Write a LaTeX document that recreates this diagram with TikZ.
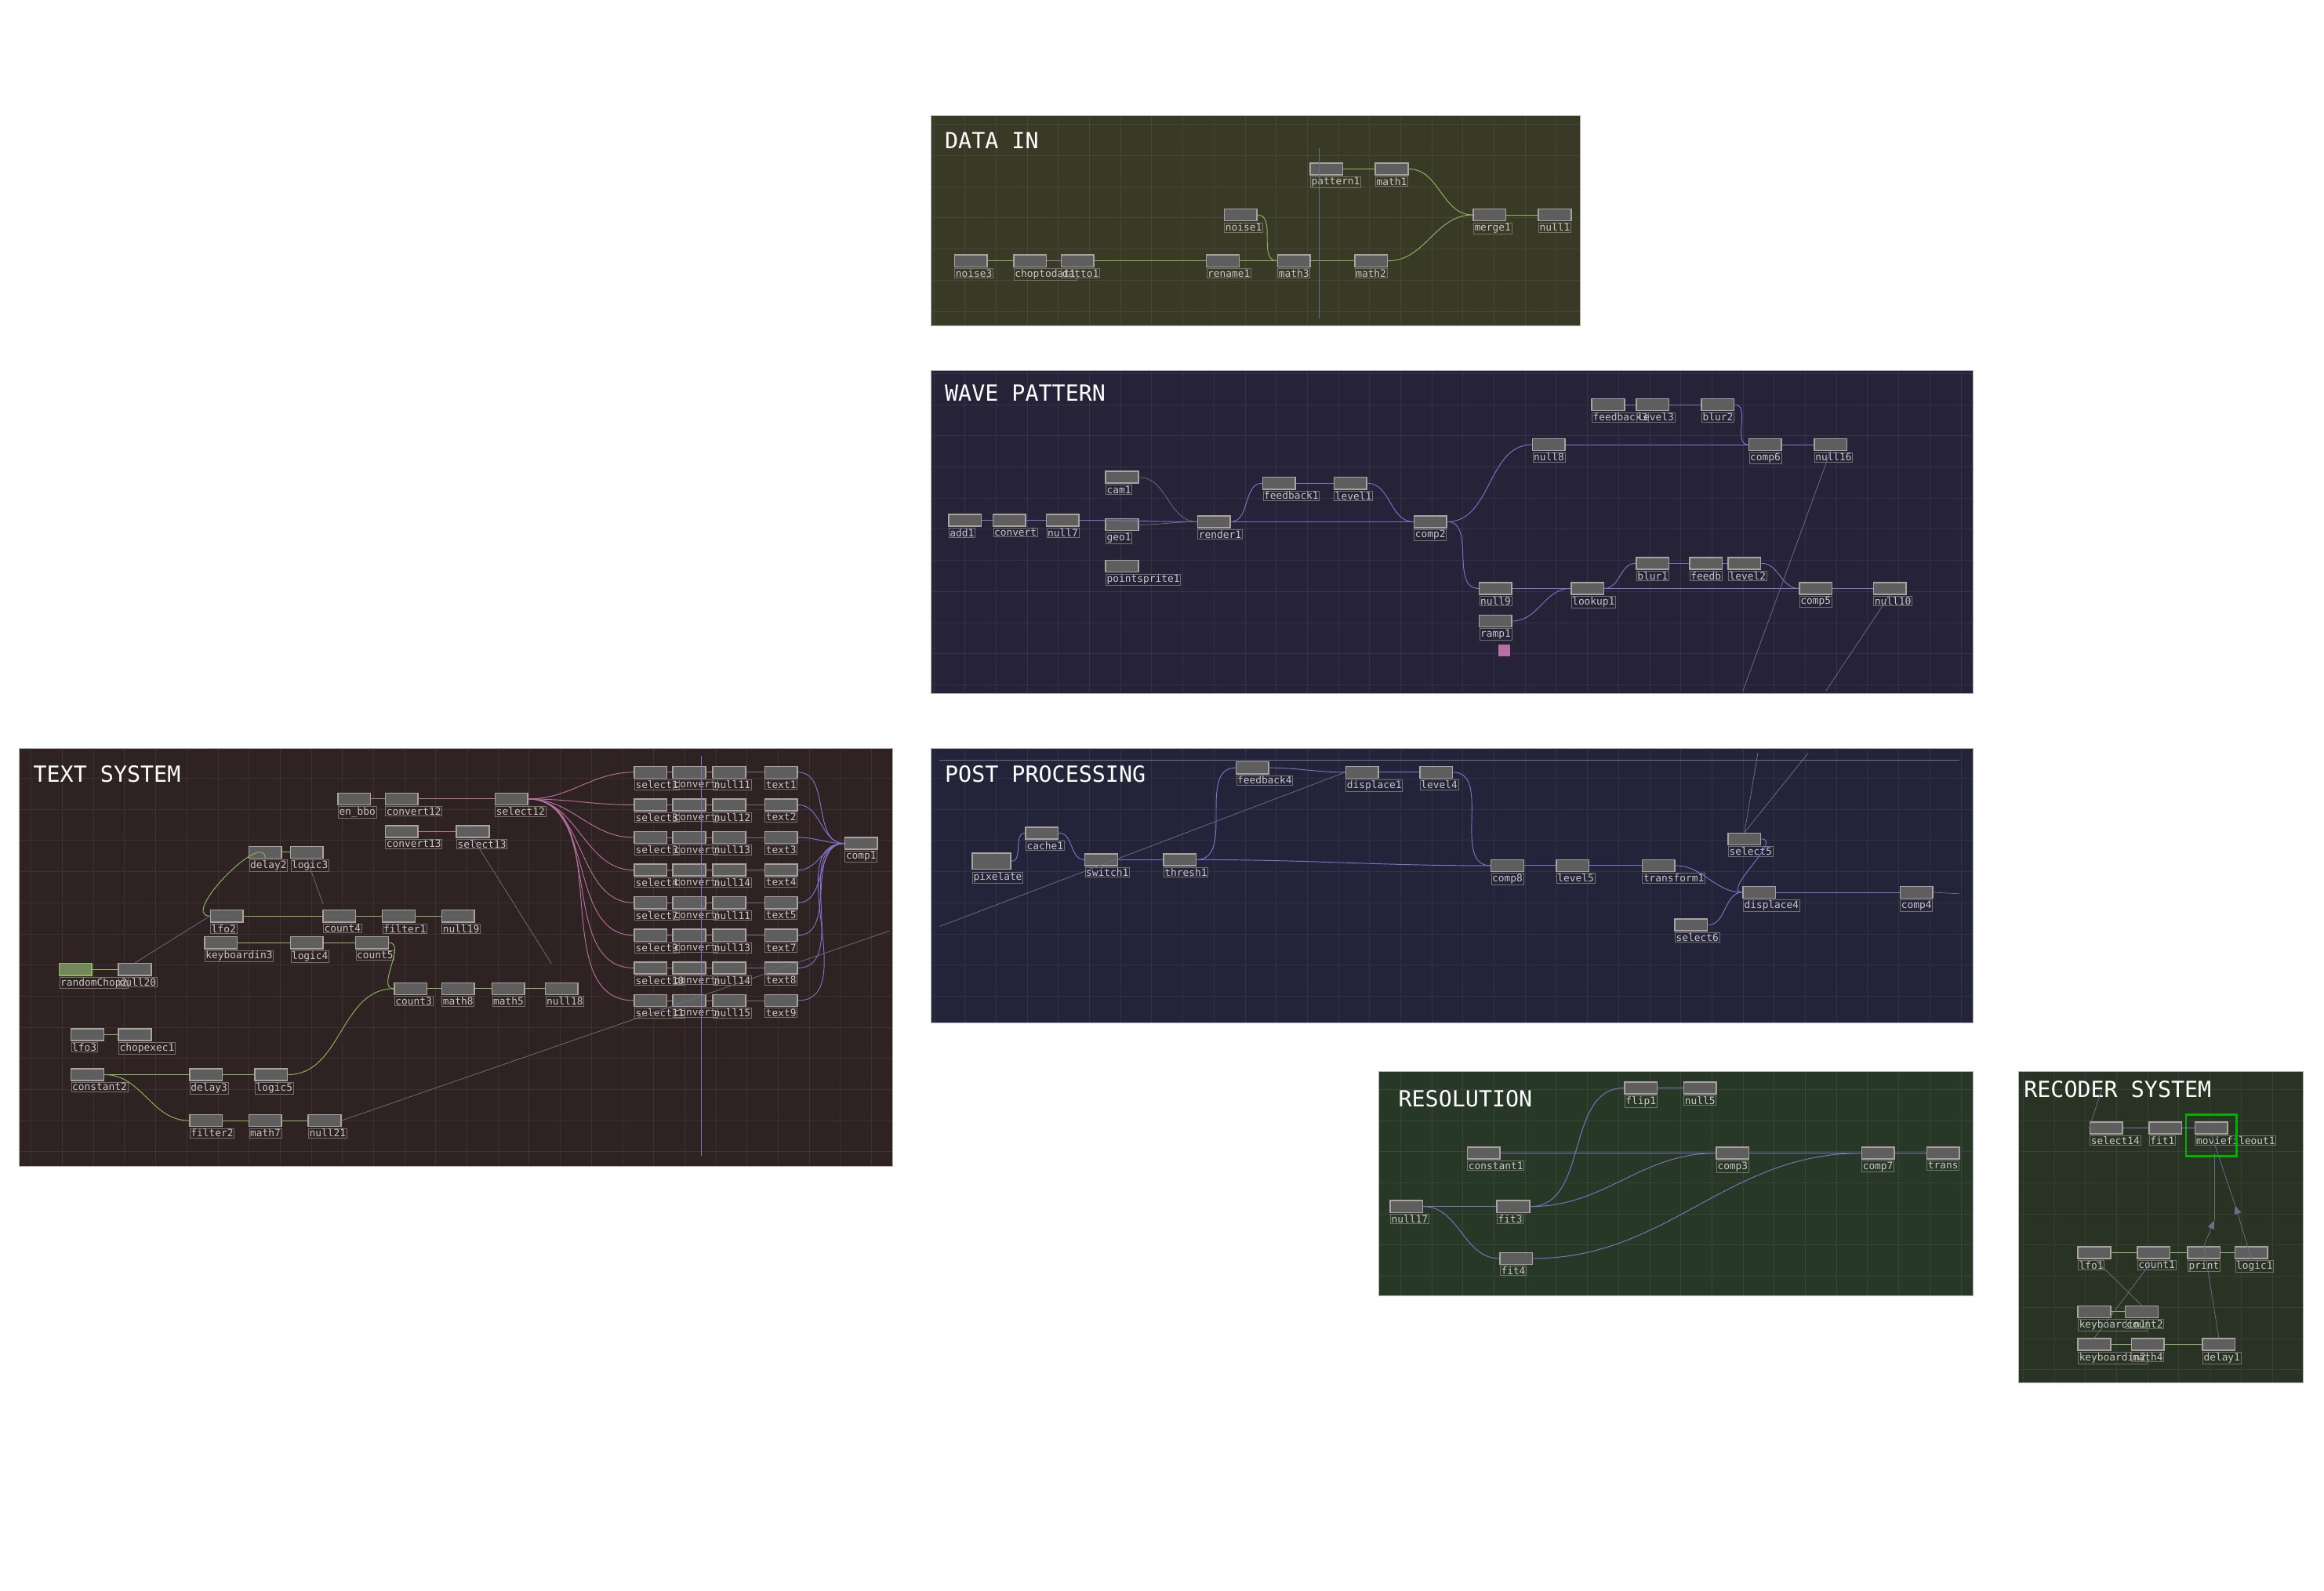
\documentclass[tikz,border=0pt]{standalone}
\usepackage{fontspec}
\usetikzlibrary{arrows.meta}
\newfontfamily\monof{DejaVu Sans Mono}
\begin{document}
\begin{tikzpicture}[x=1pt,y=-1pt,
  opnode/.style={draw=opedge,fill=opfill,line width=0.8pt,minimum width=22pt,minimum height=8pt,inner sep=0pt},
  oplabel/.style={draw=opedge!70!black,line width=0.4pt,inner sep=0.6pt,text=labtext,font=\monof\fontsize{6.8}{6.8}\selectfont},
  title/.style={anchor=west,text=white,font=\monof\fontsize{15}{15}\selectfont},
  chopc/.style={draw=chopg,line width=0.5pt},
  topc/.style={draw=topp,line width=0.5pt},
  datc/.style={draw=datp,line width=0.5pt},
  linkc/.style={draw=linkb,line width=0.4pt},
  panelgrid/.style={draw=white,opacity=0.07,line width=0.4pt}]
\definecolor{opfill}{HTML}{5E5E5E}
\definecolor{opedge}{HTML}{A9A2A0}
\definecolor{labtext}{HTML}{C8C8C8}
\definecolor{chopg}{HTML}{8FB85A}
\definecolor{topp}{HTML}{7F74C8}
\definecolor{datp}{HTML}{B86FA2}
\definecolor{linkb}{HTML}{6A7088}
\definecolor{pdata}{HTML}{393A26}
\definecolor{pwave}{HTML}{262238}
\definecolor{ptext}{HTML}{2F2222}
\definecolor{ppost}{HTML}{23233A}
\definecolor{pres}{HTML}{283826}
\definecolor{prec}{HTML}{283324}
\useasboundingbox (0,0) rectangle (1568,1073);
\fill[white] (0,0) rectangle (1568,1073);
\newcommand\panel[5]{%
  \fill[#5] (#1,#2) rectangle (#3,#4);
  \begin{scope}
  \clip (#1,#2) rectangle (#3,#4);
  \draw[panelgrid,step=21pt] (#1,#2) grid (#3,#4);
  \end{scope}
  \draw[gray!60,line width=0.5pt] (#1,#2) rectangle (#3,#4);}
\newcommand\nd[5][]{%
  \node[opnode,#1] (#2) at (#3+11,#4+4) {};
  \node[oplabel,anchor=north west] at (#3,#4+9) {#5};}
\newcommand\ed[3][chopc]{\draw[#1] (#2.east) to[out=0,in=180] (#3.west);}
% panels
\panel{628}{78}{1066}{220}{pdata}
\panel{628}{250}{1331}{468}{pwave}
\panel{13}{505}{602}{787}{ptext}
\panel{628}{505}{1331}{690}{ppost}
\panel{930}{723}{1331}{874}{pres}
\panel{1362}{723}{1554}{933}{prec}
\node[title] (t1) at (634,95) {DATA IN};
\node[title] (t2) at (634,265) {WAVE PATTERN};
\node[title] (t3) at (19,522) {TEXT SYSTEM};
\node[title] (t4) at (634,522) {POST PROCESSING};
\node[title] (t5) at (940,741) {RESOLUTION};
\node[title] (t6) at (1362,735) {RECODER SYSTEM};
% DATA IN
\nd{pattern1}{884}{110}{pattern1}
\nd{math1}{928}{110}{math1}
\nd{noise1}{826}{141}{noise1}
\nd{merge1}{994}{141}{merge1}
\nd{null1}{1038}{141}{null1}
\nd{noise3}{644}{172}{noise3}
\nd{chopto}{684}{172}{choptodat1}
\nd{datto}{716}{172}{datto1}
\nd{rename1}{814}{172}{rename1}
\nd{math3}{862}{172}{math3}
\nd{math2}{914}{172}{math2}
\ed{noise3}{chopto}\ed[datc]{chopto}{datto}\ed{datto}{rename1}
\ed{rename1}{math3}\ed{math3}{math2}\ed{math2}{merge1}
\ed{pattern1}{math1}\ed{math1}{merge1}\ed{merge1}{null1}\ed{noise1}{math3}
\draw[linkc] (890,100) -- (890,215);
% WAVE PATTERN
\nd{add1}{640}{347}{add1}
\nd{convert}{670}{347}{convert}
\nd{null7}{706}{347}{null7}
\nd{cam1}{746}{318}{cam1}
\nd{geo1}{746}{350}{geo1}
\nd{pointsprite1}{746}{378}{pointsprite1}
\nd{render1}{808}{348}{render1}
\nd{feedback1}{852}{322}{feedback1}
\nd{level1}{900}{322}{level1}
\nd{comp2}{954}{348}{comp2}
\nd{null8}{1034}{296}{null8}
\nd{feedback3}{1074}{269}{feedback3}
\nd{level3}{1104}{269}{level3}
\nd{blur2}{1148}{269}{blur2}
\nd{comp6}{1180}{296}{comp6}
\nd{null16}{1224}{296}{null16}
\nd{null9}{998}{393}{null9}
\nd{lookup1}{1060}{393}{lookup1}
\nd{blur1}{1104}{376}{blur1}
\nd{feedb}{1140}{376}{feedb}
\nd{level2}{1166}{376}{level2}
\nd{comp5}{1214}{393}{comp5}
\nd{null10}{1264}{393}{null10}
\nd{ramp1}{998}{415}{ramp1}
\fill[datp] (1011,435) rectangle (1019,443);
\ed[topc]{add1}{convert}\ed[topc]{convert}{null7}\ed[topc]{null7}{render1}
\ed[linkc]{cam1}{render1}\ed[linkc]{geo1}{render1}
\ed[topc]{render1}{comp2}\ed[topc]{render1}{feedback1}\ed[topc]{feedback1}{level1}\ed[topc]{level1}{comp2}
\ed[topc]{comp2}{null8}\ed[topc]{null8}{comp6}\ed[topc]{feedback3}{level3}\ed[topc]{level3}{blur2}\ed[topc]{blur2}{comp6}\ed[topc]{comp6}{null16}
\ed[topc]{comp2}{null9}\ed[topc]{null9}{lookup1}\ed[topc]{lookup1}{comp5}\ed[topc]{lookup1}{blur1}\ed[topc]{blur1}{feedb}\ed[topc]{feedb}{level2}\ed[topc]{level2}{comp5}\ed[topc]{comp5}{null10}
\ed[topc]{ramp1}{lookup1}
\draw[linkc] (null16.south) -- (1176,466);
\draw[linkc] (null10.south) -- (1232,466);
% TEXT SYSTEM
\nd{enbbo}{228}{535}{en\_bbo}
\nd{convert12}{260}{535}{convert12}
\nd{select12}{334}{535}{select12}
\nd{convert13}{260}{557}{convert13}
\nd{select13}{308}{557}{select13}
\nd{delay2}{168}{571}{delay2}
\nd{logic3}{196}{571}{logic3}
\nd{lfo2}{142}{614}{lfo2}
\nd{keyboardin3}{138}{632}{keyboardin3}
\nd{count4}{218}{614}{count4}
\nd{filter1}{258}{614}{filter1}
\nd{null19}{298}{614}{null19}
\nd{logic4}{196}{632}{logic4}
\nd{count5}{240}{632}{count5}
\nd[fill=chopg!45!opfill,draw=chopg]{randomChop2}{40}{650}{randomChop2}
\nd{null20}{80}{650}{null20}
\nd{count3}{266}{663}{count3}
\nd{math8}{298}{663}{math8}
\nd{math5}{332}{663}{math5}
\nd{null18}{368}{663}{null18}
\nd{lfo3}{48}{694}{lfo3}
\nd{chopexec1}{80}{694}{chopexec1}
\nd{constant2}{48}{721}{constant2}
\nd{delay3}{128}{721}{delay3}
\nd{logic5}{172}{721}{logic5}
\nd{filter2}{128}{752}{filter2}
\nd{math7}{168}{752}{math7}
\nd{null21}{208}{752}{null21}
\nd{comp1}{570}{565}{comp1}
\foreach \i/\s/\n/\t in {0/1/11/1,1/8/12/2,2/3/13/3,3/4/14/4,4/7/11/5,5/9/13/7,6/10/14/8,7/11/15/9}{
  \pgfmathsetmacro\yy{517+22*\i}
  \nd{sel\i}{428}{\yy}{select\s}
  \nd{con\i}{454}{\yy}{convert}
  \nd{nul\i}{481}{\yy}{null\n}
  \nd{txt\i}{516}{\yy}{text\t}
  \ed[datc]{sel\i}{con\i}\ed[datc]{con\i}{nul\i}\ed[linkc]{nul\i}{txt\i}
  \ed[topc]{txt\i}{comp1}
  \ed[datc]{select12}{sel\i}
}
\draw[topp,line width=0.4pt] (473,510) -- (473,780);
\ed[datc]{enbbo}{convert12}\ed[datc]{convert12}{select12}\ed[datc]{convert13}{select13}
\ed{delay2}{logic3}\ed{lfo2}{count4}\ed{count4}{filter1}\ed{filter1}{null19}
\ed{keyboardin3}{logic4}\ed{logic4}{count5}\ed{randomChop2}{null20}
\ed{count3}{math8}\ed{math8}{math5}\ed{math5}{null18}\ed{count5}{count3}
\ed{lfo3}{chopexec1}\ed{constant2}{delay3}\ed{delay3}{logic5}\ed{logic5}{count3}
\ed{constant2}{filter2}\ed{filter2}{math7}\ed{math7}{null21}
\draw[chopc] (lfo2.west) to[out=180,in=90] (delay2.south);
\draw[linkc] (null20.north) -- (lfo2.west);
\draw[linkc] (select13.south) -- (372,650);
\draw[linkc] (null21.east) -- (600,628);
\draw[linkc] (logic3.south) -- (218,610);
% POST PROCESSING
\draw[linkc] (634,513) -- (1322,513);
\nd{feedback4}{834}{514}{feedback4}
\nd{displace1}{908}{517}{displace1}
\nd{level4}{958}{517}{level4}
\node[opnode,minimum width=26pt,minimum height=11pt] (pixelate) at (669,581) {};
\node[oplabel,anchor=north west] at (656,588) {pixelate};
\nd{cache1}{692}{558}{cache1}
\nd{switch1}{732}{576}{switch1}
\nd{thresh1}{785}{576}{thresh1}
\nd{comp8}{1006}{580}{comp8}
\nd{level5}{1050}{580}{level5}
\nd{transform1}{1108}{580}{transform1}
\nd{select5}{1166}{562}{select5}
\nd{displace4}{1176}{598}{displace4}
\nd{select6}{1130}{620}{select6}
\nd{comp4}{1282}{598}{comp4}
\ed[topc]{pixelate}{cache1}\ed[topc]{cache1}{switch1}\ed[topc]{switch1}{thresh1}
\ed[topc]{thresh1}{comp8}\ed[topc]{thresh1}{feedback4}\ed[topc]{feedback4}{displace1}\ed[topc]{displace1}{level4}\ed[topc]{level4}{comp8}
\ed[topc]{comp8}{level5}\ed[topc]{level5}{transform1}\ed[topc]{transform1}{displace4}\ed[topc]{select5}{displace4}\ed[topc]{displace4}{comp4}\ed[topc]{select6}{displace4}
\draw[linkc] (634,625) -- (displace1.west);
\draw[linkc] (comp4.east) -- (1322,603);
\draw[linkc] (select5.north) -- (1186,508);
\draw[linkc] (select5.north) -- (1220,508);
% RESOLUTION
\nd{flip1}{1096}{730}{flip1}
\nd{null5}{1136}{730}{null5}
\nd{constant1}{990}{774}{constant1}
\nd{comp3}{1158}{774}{comp3}
\nd{comp7}{1256}{774}{comp7}
\nd{trans}{1300}{774}{trans}
\nd{null17}{938}{810}{null17}
\nd{fit3}{1010}{810}{fit3}
\nd{fit4}{1012}{845}{fit4}
\ed[topc]{flip1}{null5}\ed[topc]{null17}{fit3}\ed[topc]{fit3}{flip1}\ed[topc]{fit3}{comp3}
\ed[topc]{constant1}{comp3}\ed[topc]{comp3}{comp7}\ed[topc]{comp7}{trans}\ed[topc]{fit4}{comp7}\ed[topc]{null17}{fit4}
% RECODER
\nd{select14}{1410}{757}{select14}
\nd{fit1}{1450}{757}{fit1}
\nd{moviefileout1}{1481}{757}{moviefileout1}
\draw[green!70!black,line width=1.2pt] (1475,752) rectangle (1509,780);
\nd{lfo1}{1402}{841}{lfo1}
\nd{count1}{1442}{841}{count1}
\nd{print}{1476}{841}{print}
\nd{logic1}{1508}{841}{logic1}
\nd{keyboa}{1402}{881}{keyboardin1}
\nd{count2}{1434}{881}{count2}
\nd{keyboardin2}{1402}{903}{keyboardin2}
\nd{math4}{1438}{903}{math4}
\nd{delay1}{1486}{903}{delay1}
\ed[topc]{select14}{fit1}\ed[topc]{fit1}{moviefileout1}
\ed{lfo1}{count1}\ed{count1}{print}\ed{print}{logic1}\ed{keyboa}{count2}
\ed{keyboardin2}{math4}\ed{math4}{delay1}
\draw[linkc,-{Latex[length=6pt,width=5pt]}] (delay1.north) -- (print.north) -- (1494,823);
\draw[linkc,-{Latex[length=6pt,width=5pt]}] (logic1.south) -- (1508,813);
\draw[linkc] (1508,813) -- (moviefileout1.south);
\draw[linkc] (1494,823) -- (1494,778);
\draw[linkc] (lfo1.south) -- (count2.north);
\draw[linkc] (count1.south) -- (keyboardin2.north);
\draw[linkc] (select14.west) -- (1418,735);
\end{tikzpicture}
\end{document}
